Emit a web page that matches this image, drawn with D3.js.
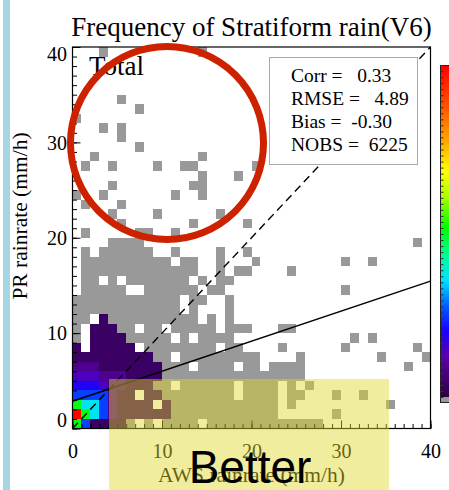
<!DOCTYPE html>
<html>
<head>
<meta charset="utf-8">
<script src="https://cdn.jsdelivr.net/npm/d3@7"></script>
<style>
  body { margin: 0; background: #fff; }
  svg { display: block; }
  text { font-family: "Liberation Serif", "Times New Roman", serif; fill: #000; }
</style>
</head>
<body>
<div id="chart"></div>
<script>
// axis ticks
const xTicks = [0, 10, 20, 30, 40];
const yTicks = [0, 10, 20, 30, 40];

// statistics shown in the box
const statNames = ["Corr", "RMSE", "Bias", "NOBS"];
const statValues = [0.33, 4.89, -0.30, 6225];

// fitted line  PR = a + b * AWS
const regIntercept = 2.86;
const regSlope = 0.315;

// frequency level per cell: '.' none, 'g' below colour range, 1..9 colour level
// rows listed from PR = 39 (top) down to PR = 0, one char per AWS bin 0..39
const freqRows = [
  "...g..........g",
  "",
  "",
  "",
  "",
  ".....g",
  ".......g",
  "g",
  "...g.g",
  ".....g",
  ".......g",
  "..g...........g",
  ".g..g....g..gg......g",
  "..............g...g",
  "....g........gg",
  "g..g.......g..g",
  ".g...g",
  "....g....g......g",
  ".....g.......g.....g",
  ".g.....gg..g",
  "....gggg.." + ".........." + ".........." + "........g.",
  ".g.gggggg." + ".g....g..g",
  ".ggggggggg" + "g.gg..g..." + "g........." + "g..g......",
  ".ggggggggg" + "gggg..g.gg" + "....g.....",
  ".gg.g.gggg" + "ggg.g.gg..",
  ".ggggg..gg" + "gggg.gg..." + ".........." + "g.........",
  "gggggggggg" + "gg.gg..g..",
  "gggggggggg" + "gg.g...g..",
  "gg.1gggggg" + "gggg.g.g..",
  "g.111gg.gg" + ".ggggg.ggg" + "...gg.....",
  "g.1111gggg" + "g.g.gggg.." + ".........." + ".g.g......",
  "1.11111.gg" + "gggggg.gg." + "...g......" + "g.......g.",
  "111111111g" + "g.gggggggg" + "g....g...." + "....g....g",
  "2221111111" + "ggg.gggg.g" + "g.gggg...." + ".......g..",
  "3332221111" + "gggggggggg" + "gggggg....",
  "444322111g" + "g.gggggg.g" + "ggg.g.g...",
  "5555211.11" + "gggggggg.g" + "ggg.gg...g" + "..g.......",
  "766521111." + "1ggggggggg" + "ggg.g....." + ".....g....",
  "9765211111" + "1ggggggggg" + "ggg......g",
  "751111g.g." + "gggg.ggggg" + "gggggggg.."
];

// relative frequency (fraction of colour bar) for each colour level
const levelFreq = [0, 0.04, 0.09, 0.14, 0.19, 0.25, 0.36, 0.50, 0.68, 1.0];

// colour table
const cbStops = [0, 0.12, 0.2, 0.27, 0.35, 0.43, 0.51, 0.6, 0.68, 0.77, 0.87, 1];
const cbColors = ["#2b0040", "#5a00a8", "#1a00ff", "#0058ff", "#00e0ff", "#00ff90",
                  "#00ff00", "#a8ff00", "#ffff00", "#ffa800", "#ff5800", "#ff0000"];
const lowColor = "#999999";

const W = 449, H = 490;
const svg = d3.select("#chart").append("svg").attr("width", W).attr("height", H);

const x = d3.scaleLinear().domain([0, 40]).range([72.5, 430.5]);
const y = d3.scaleLinear().domain([0, 40]).range([428.5, 47]);
const color = d3.scaleLinear().domain(cbStops).range(cbColors);

// light blue strip at left edge
svg.append("rect").attr("x", 3).attr("y", 0).attr("width", 7).attr("height", H).attr("fill", "#a6d5e4");

// cells
const cells = [];
freqRows.forEach((row, i) => {
  const r = 39 - i;
  for (let c = 0; c < row.length && c < 40; c++) {
    if (row[c] !== ".") cells.push({ c: c, r: r, v: row[c] });
  }
});

svg.append("g").selectAll("rect").data(cells).join("rect")
  .attr("x", d => x(d.c))
  .attr("y", d => y(d.r + 1))
  .attr("width", d => x(d.c + 1) - x(d.c))
  .attr("height", d => y(d.r) - y(d.r + 1))
  .attr("fill", d => d.v === "g" ? lowColor : color(levelFreq[+d.v]))
  .attr("shape-rendering", "crispEdges");

// 1:1 line and fitted line
const line = d3.line().x(d => x(d[0])).y(d => y(d[1]));
svg.append("path").datum([[0, 0], [40, 40]])
  .attr("d", line).attr("fill", "none").attr("stroke", "#000")
  .attr("stroke-width", 1.4).attr("stroke-dasharray", "8,5");
svg.append("path").datum([[0, regIntercept], [40, regIntercept + 40 * regSlope]])
  .attr("d", line).attr("fill", "none").attr("stroke", "#000").attr("stroke-width", 1.4);

// stats box
svg.append("rect").attr("x", 269.5).attr("y", 57.5).attr("width", 148).attr("height", 107)
  .attr("fill", "#fff").attr("stroke", "#aaa").attr("stroke-width", 1);
svg.append("g").selectAll("text").data(statNames).join("text")
  .attr("x", 291)
  .attr("y", (d, i) => 82 + i * 23)
  .attr("xml:space", "preserve")
  .style("white-space", "pre")
  .style("font-size", "19.5px")
  .text((d, i) => {
    const v = statValues[i];
    const s = Number.isInteger(v) ? String(v).padStart(5) : v.toFixed(2).padStart(6);
    return d + " =" + " " + s;
  });

// axes (IDL style, ticks inside)
const minor = d3.range(0, 41);
svg.append("g").attr("transform", `translate(0,${y(0)})`)
  .call(d3.axisBottom(x).tickValues(minor).tickSize(-4.5).tickSizeOuter(0).tickFormat(""))
  .call(g => g.select(".domain").remove());
svg.append("g").attr("transform", `translate(${x(0)},0)`)
  .call(d3.axisLeft(y).tickValues(minor).tickSize(-4.5).tickSizeOuter(0).tickFormat(""))
  .call(g => g.select(".domain").remove());

const xAx = svg.append("g").attr("transform", `translate(0,${y(0)})`)
  .call(d3.axisBottom(x).tickValues(xTicks).tickSize(-8).tickSizeOuter(0).tickPadding(15));
xAx.select(".domain").remove();
xAx.selectAll("text").style("font-size", "20px").style("font-family", "Liberation Serif, serif");

const yAx = svg.append("g").attr("transform", `translate(${x(0)},0)`)
  .call(d3.axisLeft(y).tickValues(yTicks).tickSize(-8).tickSizeOuter(0).tickPadding(5.5));
yAx.select(".domain").remove();
yAx.selectAll("text").style("font-size", "20px").style("font-family", "Liberation Serif, serif")
  .attr("dy", d => d === 40 ? "0.67em" : d === 0 ? "-0.1em" : "0.34em");

// frame
svg.append("rect").attr("x", x(0)).attr("y", y(40))
  .attr("width", x(40) - x(0)).attr("height", y(0) - y(40))
  .attr("fill", "none").attr("stroke", "#000").attr("stroke-width", 1.2);

// titles
svg.append("text").attr("x", (x(0) + x(40)) / 2).attr("y", 36)
  .attr("text-anchor", "middle").style("font-size", "27px")
  .text("Frequency of Stratiform rain(V6)");
svg.append("text").attr("x", 89).attr("y", 75).style("font-size", "27px").text("Total");
svg.append("text").attr("transform", "translate(27,216) rotate(-90)")
  .attr("text-anchor", "middle").style("font-size", "21.5px")
  .text("PR rainrate (mm/h)");
svg.append("text").attr("x", (x(0) + x(40)) / 2).attr("y", 482)
  .attr("text-anchor", "middle").style("font-size", "21.5px")
  .text("AWS rainrate (mm/h)");

// colour bar
const cb = d3.scaleLinear().domain([0, 1]).range([397, 65]);
const grad = svg.append("defs").append("linearGradient").attr("id", "cbgrad")
  .attr("x1", 0).attr("y1", 1).attr("x2", 0).attr("y2", 0);
grad.selectAll("stop").data(cbStops).join("stop")
  .attr("offset", d => d).attr("stop-color", (d, i) => cbColors[i]);
svg.append("rect").attr("x", 440).attr("y", cb(1)).attr("width", 14).attr("height", cb(0) - cb(1))
  .attr("fill", "url(#cbgrad)");
svg.append("rect").attr("x", 440).attr("y", cb(0)).attr("width", 14).attr("height", 5).attr("fill", lowColor);
svg.append("rect").attr("x", 440.5).attr("y", cb(1) + 0.5).attr("width", 14).attr("height", cb(0) - cb(1) + 5)
  .attr("fill", "none").attr("stroke", "#222").attr("stroke-width", 1);
svg.append("g").attr("transform", "translate(440.5,0)")
  .call(d3.axisRight(cb).tickValues(d3.range(0, 56).map(i => i / 55)).tickSize(3).tickFormat(""))
  .call(g => g.select(".domain").remove())
  .call(g => g.selectAll("line").attr("stroke", "#333"));

// annotations
svg.append("circle").attr("cx", 167).attr("cy", 143).attr("r", 96.5)
  .attr("fill", "none").attr("stroke", "#cc2200").attr("stroke-width", 7);
svg.append("rect").attr("x", 109).attr("y", 379).attr("width", 280).attr("height", 120)
  .attr("fill", "rgb(225,215,40)").attr("fill-opacity", 0.45);
svg.append("text").attr("x", 250).attr("y", 483).attr("text-anchor", "middle")
  .style("font-family", "Liberation Sans, Arial, sans-serif").style("font-size", "46px")
  .text("Better");
</script>
</body>
</html>
